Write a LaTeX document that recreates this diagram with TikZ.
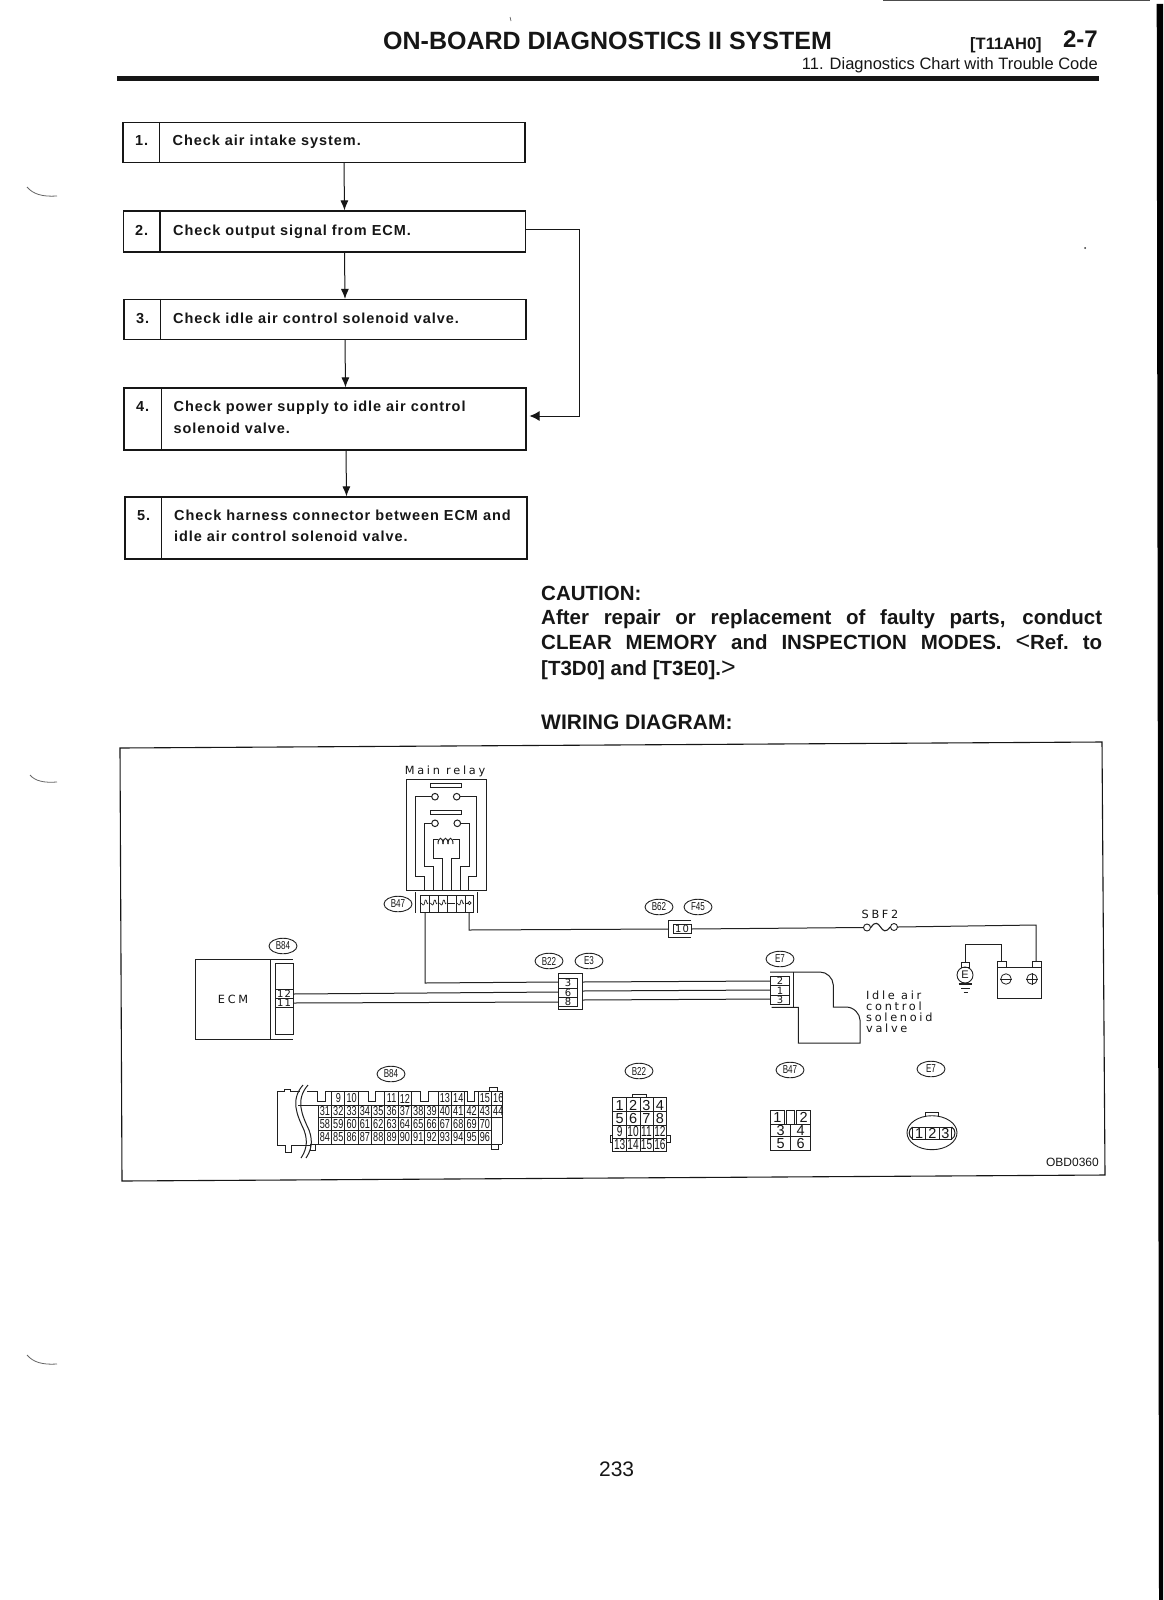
\documentclass[tikz,border=0pt]{standalone}
\usepackage{fontspec}
\usepackage{graphicx}
\usetikzlibrary{arrows.meta,calc,shapes.geometric}
\setmainfont{Liberation Sans}
\newfontfamily\flowf[LetterSpace=6.5]{Liberation Sans}
\newfontfamily\wiref[LetterSpace=24]{DejaVu Sans}
\newfontfamily\pinf[LetterSpace=10]{DejaVu Sans}
\definecolor{ink}{HTML}{161616}
\definecolor{wire}{HTML}{202020}
\newcommand{\fs}[1]{\fontsize{#1}{#1}\selectfont}
\newcommand{\cn}[1]{\scalebox{.7}[1]{#1}}
\tikzset{
 flowbox/.style={draw=ink,line width=1.1pt,rectangle,inner sep=0pt,minimum width=402pt},
 flowtxt/.style={anchor=base west,inner sep=0pt,font=\flowf\bfseries\fs{14.5},text=ink,align=left},
 arr/.style={draw=ink,line width=1pt,-{Latex[length=10pt,width=8pt]}},
 capt/.style={anchor=base west,inner sep=0pt,font=\bfseries\fs{20.5},text=ink},
 w/.style={draw=wire,line width=1pt},
 tag/.style={draw=wire,line width=.9pt,ellipse,inner sep=0pt,minimum width=28pt,minimum height=15.5pt,font=\fs{11.5},text=ink},
 lbl/.style={inner sep=0pt,font=\wiref\fs{11.3},text=ink},
 pin/.style={inner sep=0pt,font=\pinf\fs{10},text=ink},
 cellA/.style={inner sep=0pt,font=\fs{13},text=ink},
 pinB/.style={inner sep=0pt,font=\fs{14.5},text=ink},
 scan/.style={draw=black!60,line width=.8pt},
}
\begin{document}
\begin{tikzpicture}[x=1pt,y=-1pt]
\useasboundingbox[fill=white] (0,0) rectangle (1163,1600);
% scan marks
\fill[black] (1156.7,4) -- (1163,4) -- (1163,1600) -- (1159,1600) -- cycle;
\draw[scan] (27,187) .. controls (33,194) and (42,197) .. (57,196);
\draw[scan] (30,775) .. controls (35,781) and (44,783) .. (57,782);
\draw[scan] (27,1355) .. controls (33,1362) and (42,1365) .. (57,1364);
\draw[black!70,line width=.6pt] (510,17) -- (511,21);
\fill[black!80] (1085,248) circle (1);
% header
\node[anchor=base west,inner sep=0pt,font=\bfseries\fs{25},text=ink] (title) at (383,50) {ON-BOARD DIAGNOSTICS II SYSTEM};
\node[anchor=base west,inner sep=0pt,font=\bfseries\fs{16.5},text=ink] (ref) at (970,50) {[T11AH0]};
\node[anchor=base east,inner sep=0pt,font=\bfseries\fs{24},text=ink] (pg) at (1098,48) {2-7};
\node[anchor=base east,inner sep=0pt,font=\fs{16.5},text=ink] (sub) at (1098,70) {11. Diagnostics Chart with Trouble Code};
\fill[ink] (117,76) rectangle (1099,81);
\draw[black!70,line width=1.4pt] (883,.7) -- (1150,.7);
% flow boxes
\node[flowbox,minimum height=40pt] (b1) at (324,142.5) {};
\node[flowbox,minimum height=41pt] (b2) at (324.5,231.5) {};
\node[flowbox,minimum height=40pt] (b3) at (325,319.5) {};
\node[flowbox,minimum height=62pt] (b4) at (325,419) {};
\node[flowbox,minimum height=62pt] (b5) at (326,528) {};
\draw[ink,line width=1.1pt] ($(b1.north west)+(37,0)$) -- ($(b1.south west)+(37,0)$);
\draw[ink,line width=1.1pt] ($(b2.north west)+(37,0)$) -- ($(b2.south west)+(37,0)$);
\draw[ink,line width=1.1pt] ($(b3.north west)+(37,0)$) -- ($(b3.south west)+(37,0)$);
\draw[ink,line width=1.1pt] ($(b4.north west)+(38,0)$) -- ($(b4.south west)+(38,0)$);
\draw[ink,line width=1.1pt] ($(b5.north west)+(37,0)$) -- ($(b5.south west)+(37,0)$);
\node[flowtxt] (n1) at (135,146) {1.};
\node[flowtxt] (t1) at (172.5,146) {Check air intake system.};
\node[flowtxt] (n2) at (135,235) {2.};
\node[flowtxt] (t2) at (173,235) {Check output signal from ECM.};
\node[flowtxt] (n3) at (136,323) {3.};
\node[flowtxt] (t3) at (173,323) {Check idle air control solenoid valve.};
\node[flowtxt] (n4) at (136,411) {4.};
\node[flowtxt] (t4a) at (173.5,411) {Check power supply to idle air control};
\node[flowtxt] (t4b) at (173.5,433) {solenoid valve.};
\node[flowtxt] (n5) at (137,520) {5.};
\node[flowtxt] (t5a) at (174,520) {Check harness connector between ECM and};
\node[flowtxt] (t5b) at (174,541) {idle air control solenoid valve.};
\draw[arr] ($(b1.south)+(20,0)$) -- ($(b2.north)+(20,0)$);
\draw[arr] ($(b2.south)+(20,0)$) -- ($(b3.north)+(20,0)$);
\draw[arr] ($(b3.south)+(20,0)$) -- ($(b4.north)+(20.5,0)$);
\draw[arr] ($(b4.south)+(21,0)$) -- ($(b5.north)+(20.5,0)$);
\coordinate (side) at (579,229);
\draw[draw=ink,line width=1pt,-{Latex[length=10pt,width=10pt]}] (b2.east |- side) -- (side) -- (579,416) -- ($(b4.east |- 0,416)+(3,0)$);
% caution
\node[capt] (c0) at (541,600) {CAUTION:};
\node[capt] (c1) at (541,624) {\makebox[561pt][s]{After repair or replacement of faulty parts, conduct}};
\node[capt] (c2) at (541,649) {\makebox[561pt][s]{CLEAR MEMORY and INSPECTION MODES. {\mdseries\fs{25}<}Ref.\ to}};
\node[capt] (c3) at (541,675) {[T3D0] and [T3E0].{\mdseries\fs{25}>}};
\node[capt,font=\bfseries\fs{21}] (wd) at (541,729) {WIRING DIAGRAM:};
% frame
\draw[ink,line width=1.1pt] (120,748) -- (1102,742) -- (1105,1175) -- (122,1181) -- cycle;
\node[anchor=base east,inner sep=0pt,font=\fs{12},text=ink] (obd) at (1099,1166) {OBD0360};
% relay
\node[lbl] (mr) at (445,771) {Main relay};
\draw[w] (406,779) rectangle (486.3,890);
\draw[w] (430,783.3) rectangle (461.7,787.7);
\draw[w] (430.7,810) rectangle (461.7,814.3);
\foreach \x/\y in {435/796.7,456.7/796.7,435/823.3,457.3/823.3} \draw[w] (\x,\y) circle (3.3);
\draw[w] (431.7,796.7) -- (415,796.7) -- (415,876.7) -- (424.3,876.7) -- (424.3,890);
\draw[w] (460,796.7) -- (476.7,796.7) -- (476.7,876) -- (468.3,876) -- (468.3,890);
\draw[w] (431.7,823.3) -- (424,823.3) -- (424,866) -- (433.3,866) -- (433.3,890);
\draw[w] (460.7,823.3) -- (469,823.3) -- (469,866) -- (460,866) -- (460,890);
\draw[w] (442.3,890) -- (442.3,858.3) -- (433.3,858.3) -- (433.3,839) -- (438,839);
\draw[w] (453,839) -- (459.3,839) -- (459.3,858.3) -- (451,858.3) -- (451,890);
\foreach \x in {438,443,448} \draw[w] (\x,844) .. controls (\x,836.5) and (\x+5,836.5) .. (\x+5,844);
% B47 terminal strip
\draw[w] (415,892) -- (415,912.5);
\draw[w] (477.7,892) -- (477.7,912.5);
\draw[w] (420,895) rectangle (473.3,912.3);
\foreach \x in {429.3,438.3,447.3,456,465} \draw[w] (\x,895) -- (\x,912.3);
\foreach \x in {424.7,433.8,442.8,460.5} \draw[wire,line width=.7pt] (\x-3.5,903) -- (\x-1.5,905) .. controls (\x,906) and (\x,899) .. (\x+1,900) .. controls (\x+2,899) and (\x+2,906) .. (\x+3.5,903);
\draw[wire,line width=.7pt] (448,903) -- (455,903);
\draw[wire,line width=.7pt] (466,903) -- (468,903);
\draw[wire,line width=.7pt] (469.5,903) circle (1.6);
\node[tag] (tB47) at (398,904) {\cn{B47}};
% ECM
\draw[w] (195,959) rectangle (270,1039);
\draw[w] (270,959) -- (293,959) (270,1039) -- (293,1039);
\node[lbl] (ecm) at (233,999) {ECM};
\draw[w] (275,963) rectangle (293,1034);
\draw[w] (275,989) -- (293,989) (275,998) -- (293,998) (275,1007) -- (293,1007);
\node[pin] (p12) at (284,993.7) {12};
\node[pin] (p11) at (284,1002.7) {11};
\node[tag] (tB84a) at (283,946) {\cn{B84}};
% B22 E3
\draw[w] (558,973) -- (582,973) -- (582,1009) -- (558,1009) -- cycle;
\draw[w] (558,978) rectangle (577,1006);
\draw[w] (558,988) -- (577,988) (558,997) -- (577,997);
\node[pin] (p3) at (568,983) {3};
\node[pin] (p6) at (568,992.5) {6};
\node[pin] (p8) at (568,1001.5) {8};
\node[tag] (tB22a) at (549,961) {\cn{B22}};
\node[tag] (tE3) at (589,961) {\cn{E3}};
% fuse connector
\draw[w] (691,920) -- (668,920) -- (668,937) -- (691,937);
\draw[w] (673,924) rectangle (691,933);
\node[pin] (p10) at (682,928.7) {10};
\node[tag] (tB62) at (659,907) {\cn{B62}};
\node[tag] (tF45) at (698,907) {\cn{F45}};
% SBF2
\node[lbl] (sbf) at (880,914) {SBF2};
\node[draw=wire,circle,line width=.9pt,inner sep=0pt,minimum size=7pt] (fa) at (867,927.5) {};
\node[draw=wire,circle,line width=.9pt,inner sep=0pt,minimum size=7pt] (fb) at (894,927) {};
\draw[wire,line width=1.1pt] (fa.east) .. controls (875,921) and (878,923) .. (880.5,927) .. controls (883,931) and (886,933) .. (fb.west);
% battery
\draw[w] (997,967) rectangle (1041,998);
\draw[w] (997,961) rectangle (1006,967);
\draw[w] (1032,961) rectangle (1041,967);
\node[draw=wire,circle,line width=.8pt,inner sep=0pt,minimum size=10.5pt] (minus) at (1006,979) {};
\node[draw=wire,circle,line width=.8pt,inner sep=0pt,minimum size=10.5pt] (plus) at (1032,979) {};
\draw[w] (minus.west) -- (minus.east) (plus.west) -- (plus.east) (plus.north) -- (plus.south);
% earth
\draw[w] (961,962) rectangle (969,967);
\node[draw=wire,circle,line width=.9pt,inner sep=0pt,minimum size=16pt,font=\fs{11},text=ink] (earth) at (965,975) {E};
\draw[wire,line width=1.2pt] (958.5,984) -- (972,984);
\draw[wire,line width=.9pt] (961,988) -- (969.5,988);
\draw[wire,line width=.9pt] (963.5,992) -- (968,992);
% valve
\draw[w] (770,972) -- (820,972) .. controls (827,972) and (833,978) .. (833.3,985) -- (833.3,1007) -- (846,1007)
  .. controls (854,1007) and (860,1014) .. (860,1020) -- (860,1043) -- (798.3,1043) -- (798.3,1007.3) -- (771.7,1007.3);
\draw[w] (793.7,972) -- (793.7,1007.3);
\draw[w] (770.7,976.7) rectangle (789.3,1004);
\draw[w] (770.7,985.7) -- (789.3,985.7) (770.7,995) -- (789.3,995);
\node[pin] (q2) at (780,981) {2};
\node[pin] (q1) at (780,990.5) {1};
\node[pin] (q3) at (780,999.5) {3};
\node[tag] (tE7a) at (780,959) {\cn{E7}};
\node[lbl,anchor=base west] (v1) at (866,999) {Idle air};
\node[lbl,anchor=base west] (v2) at (866,1010) {control};
\node[lbl,anchor=base west] (v3) at (866,1021) {solenoid};
\node[lbl,anchor=base west] (v4) at (866,1032) {valve};
% wires
\coordinate (cell1) at (425,912.3);
\coordinate (cell6) at (469,912.3);
\coordinate (c10l) at (668,929);
\coordinate (c10r) at (691,929);
\coordinate (b3l) at (558,982);
\coordinate (b3r) at (582,982);
\coordinate (b6l) at (558,992);
\coordinate (b6r) at (582,991);
\coordinate (b8l) at (558,1002);
\coordinate (b8r) at (582,1000);
\coordinate (e2) at (770.7,981);
\coordinate (e1) at (770.7,990);
\coordinate (e3) at (770.7,999);
\coordinate (ecm12) at (293,994);
\coordinate (ecm11) at (293,1003);
\draw[w] (cell6) -- (469,930) -- (c10l);
\draw[w] (c10r) -- (fa.west);
\draw[w] (fb.east) -- (1036,925) -- (1036,961);
\draw[w] (1001,961) -- (1001,944) -- (965,944) -- (965,962);
\draw[w] (cell1) -- (425,983) -- (b3l);
\draw[w] (ecm12) -- (b6l);
\draw[w] (ecm11) -- (b8l);
\draw[w] (b3r) -- (e2);
\draw[w] (b6r) -- (e1);
\draw[w] (b8r) -- (e3);
% B84 connector view
\node[tag] (tB84b) at (391,1074) {\cn{B84}};
\def\xo{318.3}\def\dx{13.33}
\draw[w] (284,1091.7) -- (277.3,1091.7) -- (277.3,1145) -- (285,1145) -- (285,1152.3) -- (291.7,1152.3) -- (291.7,1145) -- (310.7,1145);
\draw[w] (284,1091.7) -- (284,1089) -- (290.7,1089) -- (290.7,1091.7) -- (300,1091.7);
\draw[w] (307,1091.7) -- (317.3,1091.7) -- (317.3,1101.7) -- (325,1101.7) -- (325,1091.7) -- (368.3,1091.7) -- (368.3,1101.7) -- (375,1101.7) -- (375,1091.7) -- (420.7,1091.7) -- (420.7,1101.7) -- (428.3,1101.7) -- (428.3,1091.7) -- (467.3,1091.7) -- (467.3,1101.7) -- (474,1101.7) -- (474,1091.7) -- (502,1091.7) -- (502,1144);
\draw[w] (298,1105) -- (502,1105);
\draw[w] (318.3,1117.3) -- (502,1117.3);
\draw[w] (318.3,1130.7) -- (491.6,1130.7);
\draw[w] (310,1144) -- (502,1144);
\foreach \i in {0,...,13} \draw[w] ({\xo+\i*\dx},1105) -- ({\xo+\i*\dx},1144);
\foreach \i in {1,2,3,5,6,7,9,10,11,12,13} \draw[w] ({\xo+\i*\dx},1091.7) -- ({\xo+\i*\dx},1105);
\draw[w] (489,1091.7) -- (489,1087) -- (497,1087) -- (497,1091.7);
\draw[w] (491,1144) -- (491,1149.5) -- (498,1149.5) -- (498,1144);
\draw[w] (310,1144) -- (310,1150) -- (315,1150) -- (315,1144);
\draw[w] (303,1085) .. controls (290,1100) and (297,1115) .. (304,1130) .. controls (309,1143) and (305,1152) .. (301,1158);
\draw[w] (308,1085) .. controls (295,1100) and (302,1115) .. (309,1130) .. controls (314,1143) and (310,1152) .. (306,1158);
\foreach \i/\n in {1/9,2/10,5/11,6/12,9/13,10/14,12/15,13/16}
  \node[cellA] at ({\xo+(\i+.5)*\dx},1098.5) {\cn{\n}};
\foreach \i [evaluate=\i as \n using int(31+\i)] in {0,...,13}
  \node[cellA] at ({\xo+(\i+.5)*\dx},1111.3) {\cn{\n}};
\foreach \i [evaluate=\i as \n using int(58+\i)] in {0,...,12}
  \node[cellA] at ({\xo+(\i+.5)*\dx},1124) {\cn{\n}};
\foreach \i [evaluate=\i as \n using int(84+\i)] in {0,...,12}
  \node[cellA] at ({\xo+(\i+.5)*\dx},1137.4) {\cn{\n}};
% B22 connector view
\node[tag] (tB22b) at (639,1071) {\cn{B22}};
\draw[w] (612.7,1097.7) rectangle (666.7,1151);
\foreach \x in {626.7,640,653.3} \draw[w] (\x,1097.7) -- (\x,1151);
\foreach \y in {1111.7,1125,1138.3} \draw[w] (612.7,\y) -- (666.7,\y);
\draw[w] (632,1097.7) -- (632,1094) -- (646,1094) -- (646,1097.7);
\draw[w] (612.7,1135) -- (610,1135) -- (610,1142) -- (612.7,1142);
\draw[w] (666.7,1135) -- (670,1135) -- (670,1142) -- (666.7,1142);
\foreach \i/\j/\n in {0/0/1,1/0/2,2/0/3,3/0/4,0/1/5,1/1/6,2/1/7,3/1/8}
  \node[pinB] at ({619.7+\i*13.4},{1105+\j*13.5}) {\n};
\foreach \i/\j/\n in {0/2/9,1/2/10,2/2/11,3/2/12,0/3/13,1/3/14,2/3/15,3/3/16}
  \node[pinB] at ({619.7+\i*13.4},{1105+\j*13.3}) {\cn{\n}};
% B47 connector view
\node[tag] (tB47b) at (790,1070) {\cn{B47}};
\draw[w] (770.7,1124) rectangle (810.7,1150);
\draw[w] (770.7,1136.7) -- (810.7,1136.7) (790.7,1124) -- (790.7,1150);
\draw[w] (770.7,1110) rectangle (784,1124);
\draw[w] (786.7,1110) rectangle (794,1124);
\draw[w] (796.7,1110) rectangle (810.7,1124);
\foreach \x/\y/\n in {777.3/1117/1,803.7/1117/2,780.7/1130.5/3,800.7/1130.5/4,780.7/1143.5/5,800.7/1143.5/6}
  \node[pinB] at (\x,\y) {\n};
% E7 connector view
\node[tag] (tE7b) at (931,1069) {\cn{E7}};
\node[draw=wire,ellipse,line width=.9pt,inner sep=0pt,minimum width=50pt,minimum height=34pt] (e7view) at (932,1132.7) {};
\draw[w] (925,1116.5) -- (925,1112.7) -- (938,1112.7) -- (938,1116.5);
\draw[w] (912.7,1127) rectangle (951.7,1139);
\draw[w] (925.7,1127) -- (925.7,1139) (939,1127) -- (939,1139);
\draw[w] (912.7,1127) .. controls (908,1129) and (908,1137) .. (912.7,1139);
\draw[w] (951.7,1127) .. controls (956,1129) and (956,1137) .. (951.7,1139);
\node[pinB] at (919.2,1133) {1};
\node[pinB] at (932.3,1133) {2};
\node[pinB] at (945.3,1133) {3};
% page number
\node[inner sep=0pt,font=\fs{21},text=ink] (pnum) at (616.6,1469) {233};
\end{tikzpicture}
\end{document}
